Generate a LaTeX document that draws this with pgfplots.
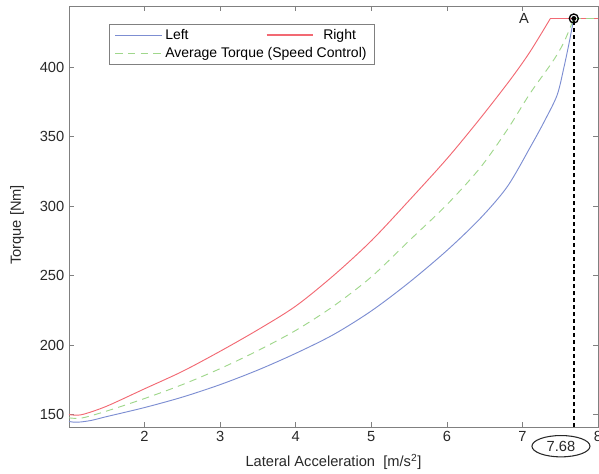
\documentclass[border=0pt]{standalone}
\usepackage{fontspec}
\setmainfont{Liberation Sans}
\usepackage{pgfplots}
\pgfplotsset{compat=1.18}
\usetikzlibrary{shapes.geometric}
\definecolor{lblue}{RGB}{125,142,210}
\definecolor{lred}{RGB}{242,105,115}
\definecolor{lgreen}{RGB}{160,215,140}
\definecolor{axgray}{RGB}{128,128,128}
\definecolor{txt}{RGB}{40,40,40}
\begin{document}
\begin{tikzpicture}
\begin{axis}[
  at={(0,0)}, anchor=south west,
  scale only axis, width=396.75pt, height=315.75pt,
  xmin=1, xmax=8, ymin=141, ymax=444,
  xtick={2,3,4,5,6,7,8}, ytick={150,200,250,300,350,400},
  tick align=inside, major tick length=3.75pt,
  xtick pos=both, ytick pos=both, xticklabel pos=lower, yticklabel pos=left,
  axis line style={axgray}, every tick/.style={axgray},
  tick label style={txt, font=\fontsize{11}{13}\selectfont},
  /pgf/number format/assume math mode=true,
  xlabel={Lateral Acceleration\ \ [m/s\textsuperscript{2}]},
  ylabel={Torque [Nm]},
  label style={txt, font=\fontsize{11}{13}\selectfont},
  xlabel style={at={(axis description cs:0.5,-0.083)}, anchor=center},
  ylabel style={at={(axis description cs:-0.098,0.48)}, anchor=center, rotate=0},
  clip=false,
  legend image code/.code={\draw[#1, line width=1pt] (0pt,0pt) -- (35pt,0pt);},
  legend style={at={(axis description cs:0.0756,0.957)}, anchor=north west,
    draw=axgray, fill=white, font=\fontsize{10.5}{12}\selectfont,
    inner xsep=4pt, inner ysep=2pt, row sep=0pt, cells={anchor=west}},
  legend cell align=left,
]
\addplot[draw=lblue, line width=0.7pt, smooth, tension=0.5] coordinates {
(1.00,145.0) (1.06,144.5) (1.15,144.6) (1.30,145.8) (1.50,148.5) (2.00,155.0)
(2.50,162.5) (3.00,171.5) (3.50,182.0) (4.00,194.0) (4.50,207.5)
(5.00,224.5) (5.50,245.0) (6.00,268.0) (6.44,291.0)
(6.80,314.0) (7.11,343.0) (7.30,362.0) (7.46,380.0) (7.55,400.0)
(7.62,418.0) (7.68,435.0)};
\addlegendentry{\makebox[76pt][l]{Left}{\color{lred}\rule[0.55ex]{35pt}{1pt}}\hspace{7.5pt}Right}
\addplot[draw=lblue, line width=0.7pt, forget plot] coordinates {(7.68,435) (8,435)};
\addplot[draw=lred, line width=0.7pt, smooth, tension=0.5, forget plot] coordinates {
(1.00,150.0) (1.08,149.5) (1.20,150.3) (1.50,156.0) (2.00,168.5) (2.50,181.0)
(3.00,195.5) (3.50,211.0) (4.00,228.0) (4.50,250.0) (5.00,275.0) (5.50,304.0)
(6.00,334.0) (6.44,363.0) (6.84,391.0) (7.10,411.0)
(7.37,435.0)};
\addplot[draw=lred, line width=0.7pt, forget plot] coordinates {(7.37,435) (8,435)};
\addplot[draw=lgreen, line width=0.7pt, dash pattern=on 5.5pt off 4pt, smooth, tension=0.5] coordinates {
(1.00,147.6) (1.08,147.2) (1.20,147.8) (1.50,152.5) (2.00,161.5) (2.50,171.5)
(3.00,183.0) (3.50,196.0) (4.00,210.5) (4.50,228.0) (5.00,249.0)
(5.50,275.0) (6.00,301.0) (6.44,327.5) (6.80,355.0)
(7.10,381.0) (7.40,404.0) (7.55,418.0) (7.68,435.0)};
\addlegendentry{Average Torque (Speed Control)}
\addplot[draw=lgreen, line width=0.7pt, dash pattern=on 5.5pt off 4pt, forget plot] coordinates {(7.68,435) (8,435)};
\addplot[black, line width=1.4pt, dash pattern=on 3pt off 2.2pt, forget plot] coordinates {(7.68,141) (7.68,435)};
\addplot[black, only marks, mark=o, mark size=3.4pt, line width=1pt, forget plot] coordinates {(7.68,435)};
\addplot[black, only marks, mark=*, mark size=1.6pt, forget plot] coordinates {(7.68,435)};
\node[txt, font=\fontsize{11}{13}\selectfont] at (axis cs:7.02,435) {A};
\node[draw=black, ellipse, line width=0.8pt, minimum width=43.5pt, minimum height=16pt, inner sep=0pt,
  anchor=north, txt, font=\fontsize{11}{13}\selectfont] at ([yshift=-6pt]axis cs:7.51,141) {7.68};
\end{axis}
\pgfresetboundingbox
\useasboundingbox (-51.75pt,-35.25pt) rectangle (397.5pt,320.25pt);
\end{tikzpicture}
\end{document}
